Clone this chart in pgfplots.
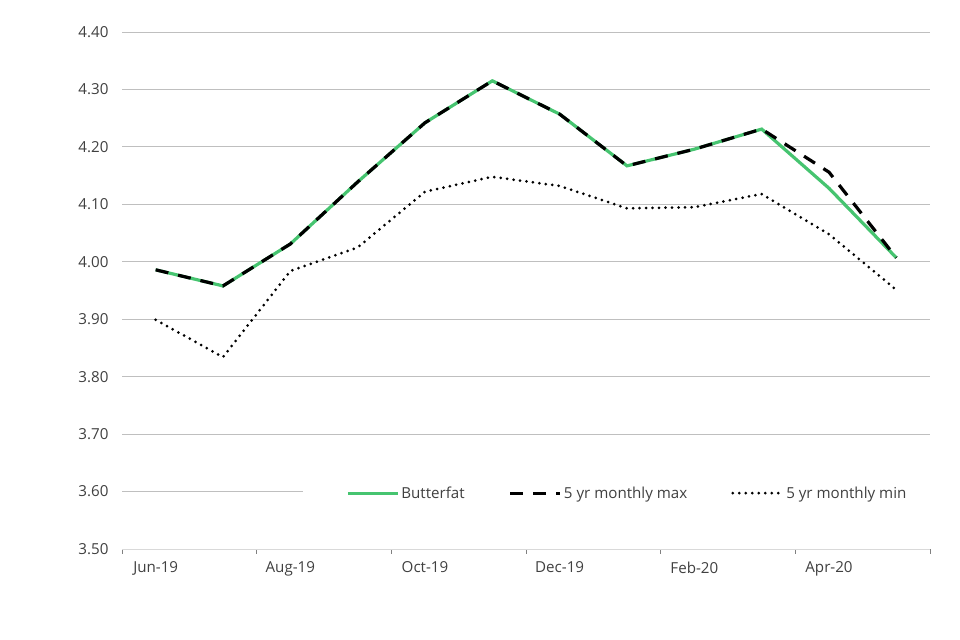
\documentclass[border=0pt]{standalone}
\usepackage{pgfplots}
\pgfplotsset{compat=1.18}
\usepackage{fontspec}
\setmainfont{Open Sans}
\definecolor{txt}{RGB}{64,64,64}
\definecolor{grid}{RGB}{217,217,217}
\definecolor{bf}{RGB}{70,196,112}
\begin{document}
\begin{tikzpicture}
\path (0,0) rectangle (960bp,640bp);
\begin{axis}[
  at={(122bp,91bp)}, anchor=south west,
  scale only axis, width=808bp, height=517bp,
  xmin=-0.5, xmax=11.5, ymin=3.5, ymax=4.4,
  axis x line*=bottom,
  axis y line*=left,
  x axis line style={grid, line width=0.9bp, -},
  y axis line style={draw=none},
  ytick={3.5,3.6,...,4.41},
  xmajorgrids=false, ymajorgrids=true,
  grid style={grid, line width=0.9bp},
  xtick={0,2,4,6,8,10},
  xticklabels={Jun-19,Aug-19,Oct-19,Dec-19,Feb-20,Apr-20},
  minor xtick={-0.5,1.5,3.5,5.5,7.5,9.5,11.5},
  major tick length=0pt,
  minor tick length=5bp,
  tick align=outside,
  minor tick style={grid, line width=0.9bp},
  major tick style={draw=none},
  /pgf/number format/fixed, /pgf/number format/fixed zerofill, /pgf/number format/precision=2,
  /pgf/number format/assume math mode=true,
  tick label style={font=\fontsize{15.2}{18}\selectfont, text=txt},
  xticklabel style={yshift=-9bp},
  yticklabel style={xshift=-10bp},
  legend columns=3,
  legend style={at={(0.224,0.108)}, anchor=west, draw=none, fill=white,
    font=\fontsize{15.2}{18}\selectfont, text=txt,
    inner xsep=43bp, inner ysep=6bp,
    /tikz/every even column/.append style={column sep=42bp}},
  legend image code/.code={\draw[#1] (0bp,0bp) -- (50bp,0bp);},
]
\addplot[bf, line width=3.2bp] coordinates {
(0,3.986) (1,3.958) (2,4.031) (3,4.139) (4,4.242) (5,4.315)
(6,4.257) (7,4.167) (8,4.196) (9,4.231) (10,4.128) (11,4.007)};
\addlegendentry{Butterfat}
\addplot[black, line width=3.2bp, dash pattern=on 13bp off 10bp] coordinates {
(0,3.986) (1,3.958) (2,4.031) (3,4.139) (4,4.242) (5,4.315)
(6,4.257) (7,4.167) (8,4.196) (9,4.231) (10,4.156) (11,4.007)};
\addlegendentry{5 yr monthly max}
\addplot[black, line width=3bp, line cap=round, dash pattern=on 0bp off 6.5bp] coordinates {
(0,3.899) (1,3.834) (2,3.984) (3,4.025) (4,4.122) (5,4.148)
(6,4.132) (7,4.093) (8,4.095) (9,4.118) (10,4.048) (11,3.951)};
\addlegendentry{5 yr monthly min}
\end{axis}
\end{tikzpicture}
\end{document}
